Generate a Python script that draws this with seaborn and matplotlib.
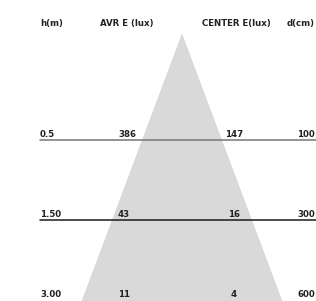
import matplotlib
matplotlib.use("Agg")
import matplotlib.pyplot as plt
import seaborn as sns
import numpy as np

sns.set_theme(style="white")
plt.rcParams['font.family'] = ['DejaVu Sans']

# --- data ---
headers = ["h(m)", "AVR E (lux)", "CENTER E(lux)", "d(cm)"]
heights = ["0.5", "1.50", "3.00"]
avr_lux = ["386", "43", "11"]
center_lux = ["147", "16", "4"]
diameters = ["100", "300", "600"]

rows = np.arange(len(heights))  # row positions (0, 1, 2)
line_colors = ["#777777", "#1a1a1a", "#1a1a1a"]
text_color = "#222222"

fig = plt.figure(figsize=(3.16, 3.01), dpi=100)
ax = fig.add_axes([0, 0, 1, 1])
ax.set_xlim(0, 316)
ax.set_ylim(2.0125, -1.75)
ax.axis("off")

# beam cone
apex_y = -1.34
cx = 181.5
yy = np.linspace(apex_y, 2.0125, 50)
half = 30 * (yy - apex_y)
ax.fill_betweenx(yy, cx - half, cx + half, color="#d9d9d9", lw=0, zorder=1)

# header
hdr_y = -1.42
hdr_x = [40, 100, 202, 315]
hdr_ha = ["left", "left", "left", "right"]
for t, x, ha in zip(headers, hdr_x, hdr_ha):
    ax.text(x, hdr_y, t, ha=ha, va="baseline", fontsize=6.2, fontweight="bold",
            color=text_color, zorder=3)

# rows
for r, h, a, c, d in zip(rows, heights, avr_lux, center_lux, diameters):
    if r < 2:
        sns.lineplot(x=[40, 316], y=[r, r], ax=ax, color=line_colors[r], lw=1.1,
                     zorder=2)
    ty = r - 0.04
    kw = dict(va="baseline", fontsize=6.2, fontweight="bold", color=text_color, zorder=3)
    ax.text(40, ty, h, ha="left", **kw)
    ax.text(118, ty, a, ha="left", **kw)
    ax.text(234, ty, c, ha="center", **kw)
    ax.text(315, ty, d, ha="right", **kw)

fig.savefig("out.png", dpi=100, facecolor="white")
